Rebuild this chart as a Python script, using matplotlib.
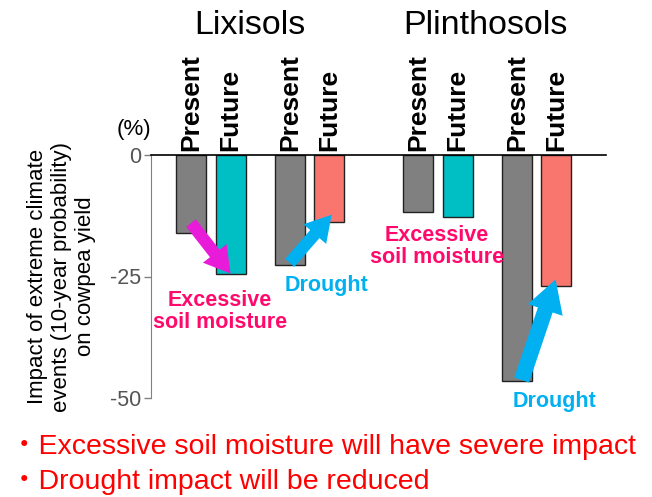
import matplotlib.pyplot as plt
from matplotlib.patches import FancyArrowPatch

plt.rcParams['font.family'] = ['Liberation Sans', 'Noto Sans CJK JP', 'DejaVu Sans']

groups = ["Lixisols", "Plinthosols"]
labels = ["Present", "Future", "Present", "Future", "Present", "Future", "Present", "Future"]
values = [-16.1, -24.5, -22.6, -13.7, -11.8, -12.7, -46.5, -27.0]
positions = [0, 1, 2.5, 3.5, 5.75, 6.75, 8.25, 9.25]
colors = ["#808080", "#00BFC4", "#808080", "#F8766D",
          "#808080", "#00BFC4", "#808080", "#F8766D"]

fig = plt.figure(figsize=(6.52, 4.97), dpi=100)
ax = fig.add_axes([151/652, 1-398/497, (606-151)/652, (398-155)/497])

ax.bar(positions, values, width=0.76, color=colors, edgecolor="#222222", linewidth=1.0)

ax.set_xlim(-1.013, 10.506)
ax.set_ylim(-50, 0)
ax.set_yticks([0, -25, -50])
ax.set_yticklabels(["0", "-25", "-50"], fontsize=15.5, color="#555555")
ax.tick_params(axis="y", length=5, width=1, color="#808080", pad=2)

ax.xaxis.tick_top()
ax.set_xticks(positions)
ax.set_xticklabels(labels, rotation=90, fontsize=19, fontweight="bold", color="black")
ax.tick_params(axis="x", length=0, pad=3)

for s in ["right", "bottom"]:
    ax.spines[s].set_visible(False)
ax.spines["left"].set_color("#808080")
ax.spines["top"].set_color("black")
ax.spines["top"].set_linewidth(1.2)

ax.set_ylabel("Impact of extreme climate\nevents (10-year probability)\non cowpea yield",
              fontsize=16, linespacing=1.2, labelpad=10)

fig.text(134/652, 1-140/497, "(%)", fontsize=16, ha="center", va="bottom")

# group titles
fig.text(250/652, 1-26/497, groups[0], fontsize=24.5, ha="center", va="center")
fig.text(485/652, 1-26/497, groups[1], fontsize=24.5, ha="center", va="center")

pink = "#FF0A6C"
magenta = "#E81CD8"
cyan = "#00B0F0"

def arrow(p0, p1, color, tw, hw, hl):
    a = FancyArrowPatch(p0, p1, arrowstyle=f"simple,tail_width={tw},head_width={hw},head_length={hl}",
                        mutation_scale=16, color=color, lw=0, clip_on=False, zorder=5,
                        shrinkA=0, shrinkB=0)
    ax.add_patch(a)

arrow((0.0, -14.0), (1.0, -24.4), magenta, 0.55, 1.35, 1.15)
arrow((2.5, -22.2), (3.56, -12.3), cyan, 0.55, 1.35, 1.15)
arrow((8.37, -46.3), (9.23, -25.6), cyan, 0.7, 1.65, 1.45)

ax.text(0.74, -32.2, "Excessive\nsoil moisture", color=pink, fontsize=15.5, fontweight="bold",
        ha="center", va="center", linespacing=1.1)
ax.text(3.44, -26.8, "Drought", color=cyan, fontsize=15.5, fontweight="bold",
        ha="center", va="center")
ax.text(6.23, -18.8, "Excessive\nsoil moisture", color=pink, fontsize=15.5, fontweight="bold",
        ha="center", va="center", linespacing=1.1)
ax.text(9.19, -50.7, "Drought", color=cyan, fontsize=15.5, fontweight="bold",
        ha="center", va="center", clip_on=False)

fig.text(10/652, 1-447/497, "・Excessive soil moisture will have severe impact",
         color="#FF0000", fontsize=20.5, ha="left", va="center")
fig.text(10/652, 1-482/497, "・Drought impact will be reduced",
         color="#FF0000", fontsize=20.5, ha="left", va="center")

fig.savefig("out.png", dpi=100)
